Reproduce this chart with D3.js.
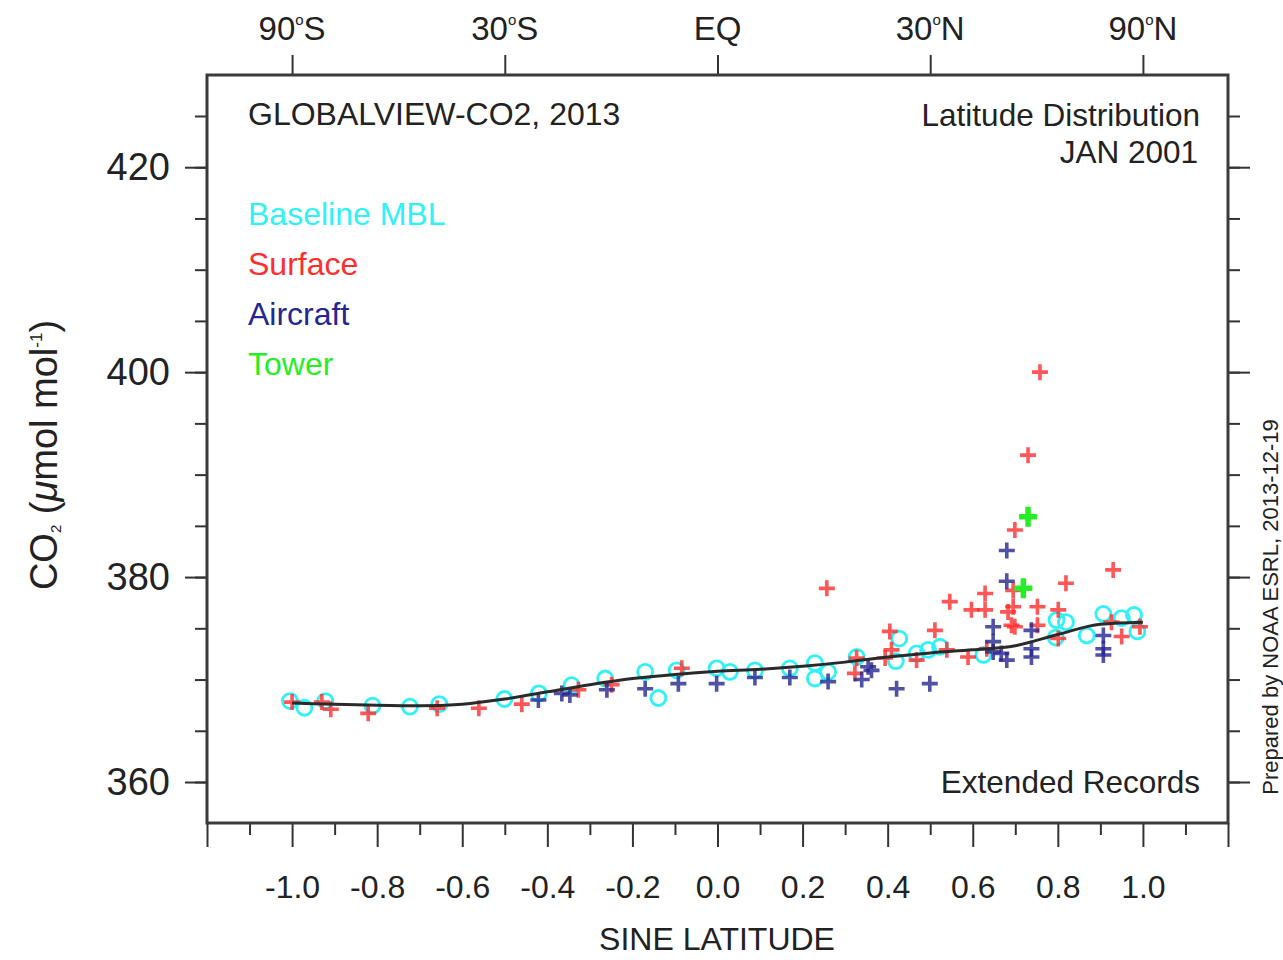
<!DOCTYPE html>
<html>
<head>
<meta charset="utf-8">
<script src="https://cdn.jsdelivr.net/npm/d3@7/dist/d3.min.js"></script>
<style>
  body { margin: 0; background: #fff; }
  text { font-family: "Liberation Sans", Arial, Helvetica, sans-serif; fill: #222; }
</style>
</head>
<body>
<div id="chart"></div>
<script>
// sine latitude, CO2 (umol/mol)
var mbl = [
  [-1.005, 367.9], [-0.971, 367.25], [-0.922, 367.9], [-0.811, 367.45], [-0.723, 367.35],
  [-0.654, 367.6], [-0.501, 368.1], [-0.420, 368.65], [-0.343, 369.45], [-0.264, 370.1],
  [-0.170, 370.75], [-0.139, 368.2], [-0.096, 370.9], [-0.002, 371.1], [0.029, 370.75],
  [0.088, 370.9], [0.170, 371.1], [0.229, 371.6], [0.229, 370.1], [0.260, 370.75],
  [0.327, 372.2], [0.427, 374.0], [0.419, 371.8], [0.468, 372.55], [0.495, 372.9],
  [0.523, 373.2], [0.625, 372.4], [0.797, 375.8], [0.819, 375.6], [0.795, 374.1],
  [0.868, 374.3], [0.907, 376.4], [0.950, 376.0], [0.979, 376.3], [0.987, 374.7]
];
var surface = [
  [-1.0, 367.8], [-0.930, 367.8], [-0.909, 367.1], [-0.821, 366.7], [-0.659, 367.2],
  [-0.561, 367.2], [-0.460, 367.6], [-0.327, 369.0], [-0.249, 369.5], [-0.084, 371.1],
  [0.257, 378.9], [0.323, 370.6], [0.327, 372.1], [0.394, 372.1], [0.405, 374.7],
  [0.409, 372.9], [0.468, 371.9], [0.511, 374.8], [0.539, 372.9], [0.546, 377.6],
  [0.589, 372.2], [0.597, 376.8], [0.629, 378.4], [0.629, 376.8], [0.633, 373.0],
  [0.683, 376.6], [0.691, 375.3], [0.695, 377.1], [0.695, 378.7], [0.699, 384.6],
  [0.699, 375.15], [0.730, 391.9], [0.752, 377.1], [0.752, 375.3], [0.758, 400.0],
  [0.801, 376.8], [0.801, 374.0], [0.819, 379.4], [0.926, 375.6], [0.930, 380.7],
  [0.950, 374.2], [0.993, 375.15]
];
var aircraft = [
  [-0.421, 368.0], [-0.366, 368.65], [-0.347, 368.5], [-0.260, 369.0], [-0.170, 369.1],
  [-0.092, 369.6], [-0.002, 369.6], [0.088, 370.2], [0.170, 370.2], [0.260, 369.8],
  [0.339, 370.0], [0.354, 371.25], [0.362, 370.9], [0.421, 369.1], [0.499, 369.6],
  [0.648, 375.15], [0.648, 373.7], [0.648, 372.7], [0.667, 372.55], [0.680, 371.9],
  [0.680, 382.6], [0.680, 379.6], [0.738, 374.8], [0.738, 373.0], [0.738, 372.2],
  [0.907, 374.3], [0.907, 373.0], [0.907, 372.4]
];
var tower = [[0.719, 378.9], [0.730, 385.9]];

// smoothed latitude gradient
var curveLat = [-1.0, -0.9, -0.8, -0.7, -0.6, -0.5, -0.4, -0.3, -0.2, -0.1, 0.0,
                0.1, 0.2, 0.3, 0.4, 0.5, 0.6, 0.7, 0.8, 0.9, 1.0];
var curveCO2 = [367.7, 367.6, 367.5, 367.45, 367.6, 368.1, 368.8, 369.5, 370.1, 370.5, 370.8,
                371.0, 371.3, 371.7, 372.2, 372.6, 372.9, 373.3, 374.4, 375.4, 375.6];

var yLabelTicks = [360, 380, 400, 420];
var yMinorTicks = [360, 365, 370, 375, 380, 385, 390, 395, 400, 405, 410, 415, 420, 425];
var xLabelTicks = [-1.2, -1.0, -0.8, -0.6, -0.4, -0.2, 0.0, 0.2, 0.4, 0.6, 0.8, 1.0, 1.2];
var xMinorTicks = [-1.1, -0.9, -0.7, -0.5, -0.3, -0.1, 0.1, 0.3, 0.5, 0.7, 0.9, 1.1];
var topTicks = [-1, -0.5, 0, 0.5, 1];
var topNums = ['90', '30', 'EQ', '30', '90'];
var topHemi = ['S', 'S', '', 'N', 'N'];

var legendNames = ['Baseline MBL', 'Surface', 'Aircraft', 'Tower'];
var legendColors = ['#2ef2f6', '#ff2e2e', '#262690', '#26ee26'];

var svg = d3.select('#chart').append('svg')
  .attr('width', 1283).attr('height', 960);

var x = d3.scaleLinear().domain([-1.2, 1.2]).range([207, 1228]);
var y = d3.scaleLinear().domain([356, 429]).range([823, 75]);

function styleAxis(g, fs) {
  g.select('.domain').remove();
  g.selectAll('line').attr('stroke', '#333').attr('stroke-width', 2);
  g.selectAll('text').attr('font-size', fs).attr('fill', '#222')
    .attr('font-family', '"Liberation Sans", Arial, sans-serif');
}

// left
svg.append('g').attr('transform', 'translate(207,0)')
  .call(d3.axisLeft(y).tickValues(yMinorTicks).tickSize(12).tickFormat(''))
  .call(styleAxis, 0);
svg.append('g').attr('transform', 'translate(207,0)')
  .call(d3.axisLeft(y).tickValues(yLabelTicks).tickSize(22).tickPadding(15).tickFormat(d3.format('d')))
  .call(styleAxis, 38);
// right
svg.append('g').attr('transform', 'translate(1228,0)')
  .call(d3.axisRight(y).tickValues(yMinorTicks).tickSize(12).tickFormat(''))
  .call(styleAxis, 0);
svg.append('g').attr('transform', 'translate(1228,0)')
  .call(d3.axisRight(y).tickValues(yLabelTicks).tickSize(22).tickFormat(''))
  .call(styleAxis, 0);
// bottom
svg.append('g').attr('transform', 'translate(0,823)')
  .call(d3.axisBottom(x).tickValues(xMinorTicks).tickSize(12).tickFormat(''))
  .call(styleAxis, 0);
svg.append('g').attr('transform', 'translate(0,823)')
  .call(d3.axisBottom(x).tickValues(xLabelTicks).tickSize(24).tickPadding(28)
    .tickFormat(function(d) { return Math.abs(d) > 1.01 ? '' : d.toFixed(1); }))
  .call(styleAxis, 32);
// top
svg.append('g').attr('transform', 'translate(0,75)')
  .call(d3.axisTop(x).tickValues(topTicks).tickSize(20).tickFormat(''))
  .call(styleAxis, 0);

var topLab = svg.append('g').selectAll('text').data(topTicks).enter()
  .append('text')
  .attr('x', function(d) { return x(d); })
  .attr('y', 40)
  .attr('text-anchor', 'middle')
  .attr('font-size', 33);
topLab.each(function(d, i) {
  var t = d3.select(this);
  if (topHemi[i] === '') { t.text(topNums[i]); return; }
  t.append('tspan').text(topNums[i]);
  t.append('tspan').attr('font-size', 15).attr('dy', -15).text('o');
  t.append('tspan').attr('dy', 15).text(topHemi[i]);
});

// frame
svg.append('rect')
  .attr('x', x(-1.2)).attr('y', y(429))
  .attr('width', x(1.2) - x(-1.2)).attr('height', y(356) - y(429))
  .attr('fill', 'none').attr('stroke', '#3a3a3a').attr('stroke-width', 3);

// markers
var plus = 'M-8,0H8M0,-8V8';

svg.append('g').selectAll('circle').data(mbl).enter()
  .append('circle')
  .attr('cx', function(d) { return x(d[0]); })
  .attr('cy', function(d) { return y(d[1]); })
  .attr('r', 7.5)
  .attr('fill', 'none')
  .attr('stroke', legendColors[0])
  .attr('stroke-width', 2.8);

svg.append('g').selectAll('path').data(surface).enter()
  .append('path')
  .attr('d', plus)
  .attr('transform', function(d) { return 'translate(' + x(d[0]) + ',' + y(d[1]) + ')'; })
  .attr('stroke', legendColors[1]).attr('stroke-width', 3.6).attr('opacity', 0.8);

svg.append('g').selectAll('path').data(aircraft).enter()
  .append('path')
  .attr('d', plus)
  .attr('transform', function(d) { return 'translate(' + x(d[0]) + ',' + y(d[1]) + ')'; })
  .attr('stroke', legendColors[2]).attr('stroke-width', 3.6).attr('opacity', 0.8);

svg.append('g').selectAll('path').data(tower).enter()
  .append('path')
  .attr('d', 'M-9,0H9M0,-10V10')
  .attr('transform', function(d) { return 'translate(' + x(d[0]) + ',' + y(d[1]) + ')'; })
  .attr('stroke', legendColors[3]).attr('stroke-width', 5.5);

// fitted curve
var line = d3.line()
  .x(function(d, i) { return x(curveLat[i]); })
  .y(function(d) { return y(d); })
  .curve(d3.curveMonotoneX);

svg.append('path')
  .datum(curveCO2)
  .attr('d', line)
  .attr('fill', 'none')
  .attr('stroke', '#2a2a2a')
  .attr('stroke-width', 3);

// texts inside plot
svg.append('text').attr('x', 248).attr('y', 125).attr('font-size', 32)
  .text('GLOBALVIEW-CO2, 2013');
svg.append('text').attr('x', 1200).attr('y', 126).attr('font-size', 31.5)
  .attr('text-anchor', 'end').text('Latitude Distribution');
svg.append('text').attr('x', 1198).attr('y', 163).attr('font-size', 31.5)
  .attr('text-anchor', 'end').text('JAN 2001');
svg.append('text').attr('x', 1200).attr('y', 793).attr('font-size', 31.5)
  .attr('text-anchor', 'end').text('Extended Records');

svg.append('g').selectAll('text').data(legendNames).enter()
  .append('text')
  .attr('x', 248)
  .attr('y', function(d, i) { return 225 + i * 50; })
  .attr('font-size', 32)
  .style('fill', function(d, i) { return legendColors[i]; })
  .text(function(d) { return d; });

// axis titles
svg.append('text').attr('x', 717).attr('y', 950).attr('font-size', 32)
  .attr('text-anchor', 'middle').text('SINE LATITUDE');

var yt = svg.append('text')
  .attr('transform', 'translate(57,455) rotate(-90)')
  .attr('text-anchor', 'middle')
  .attr('font-size', 38);
yt.append('tspan').text('CO');
yt.append('tspan').attr('font-size', 15).attr('dy', 4).text('2');
yt.append('tspan').attr('dy', -4).text(' (');
yt.append('tspan').attr('font-style', 'italic').text('\u03bc');
yt.append('tspan').text('mol mol');
yt.append('tspan').attr('font-size', 17).attr('dy', -15).text('-1');
yt.append('tspan').attr('dy', 15).text(')');

svg.append('text')
  .attr('transform', 'translate(1278,607) rotate(-90)')
  .attr('text-anchor', 'middle')
  .attr('font-size', 22)
  .text('Prepared by NOAA ESRL, 2013-12-19');
</script>
</body>
</html>
